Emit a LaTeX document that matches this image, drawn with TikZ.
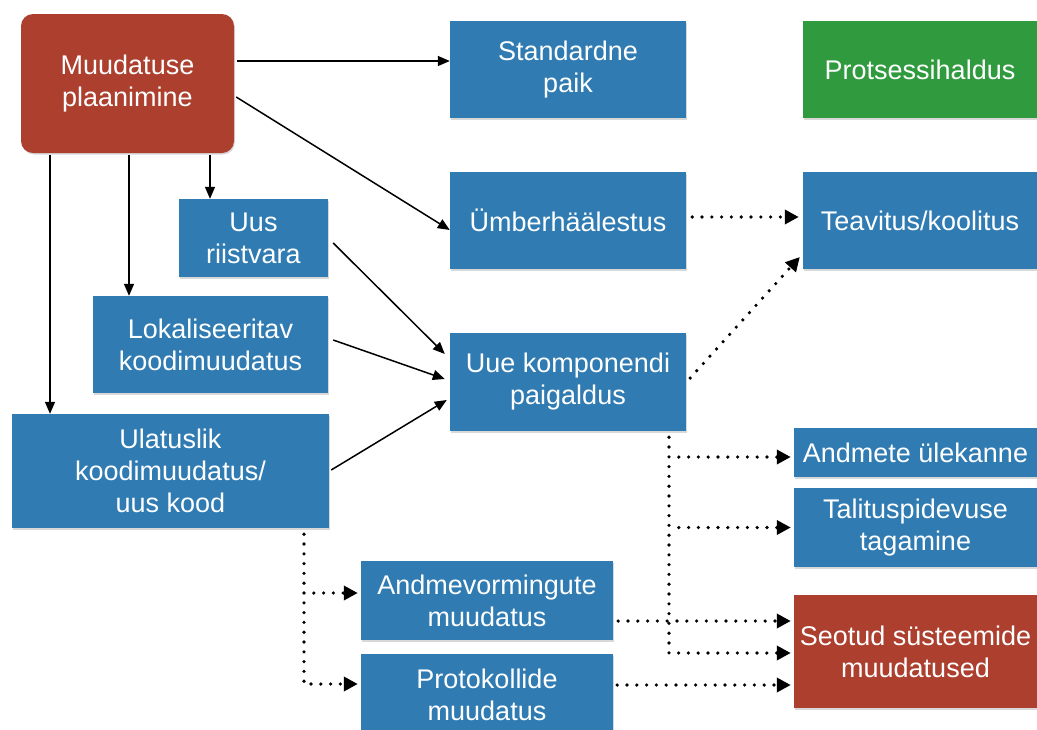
\documentclass[tikz,border=0pt]{standalone}
\usepackage{fontspec}
\setmainfont{Liberation Sans}
\usetikzlibrary{arrows.meta,shadows}
\definecolor{boxblue}{RGB}{47,123,178}
\definecolor{boxred}{RGB}{172,63,46}
\definecolor{boxgreen}{RGB}{48,155,62}
\begin{document}
\begin{tikzpicture}[x=1pt,y=-1pt,
  box/.style={fill=boxblue, text=white, align=center, inner sep=0pt,
    font=\fontsize{27}{32}\selectfont,
    drop shadow={shadow xshift=1pt,shadow yshift=-1.5pt,opacity=0.3}},
  redbox/.style={box, fill=boxred},
  greenbox/.style={box, fill=boxgreen},
  solidarrow/.style={-{Triangle[length=12pt,width=10pt]}, line width=1.5pt},
  dotline/.style={line width=3.6pt, dash pattern=on 0pt off 9.8pt, line cap=round},
  dotarrow/.style={dotline, -{Triangle[length=14pt,width=14pt]}}
]
\useasboundingbox (0,0) rectangle (1037,729);
\fill[white] (0,0) rectangle (1037,729);

% nodes
\node[redbox, rounded corners=12pt, minimum width=213pt, minimum height=139pt] (plan) at (127.5,83.5) {Muudatuse\\plaanimine};
\node[box, minimum width=236pt, minimum height=97pt] (std) at (568,69.5) {Standardne\\paik};
\node[greenbox, minimum width=234pt, minimum height=97pt] (prot) at (920,69.5) {Protsessihaldus};
\node[box, minimum width=236pt, minimum height=97pt] (umb) at (568,220.5) {Ümberhäälestus};
\node[box, minimum width=234pt, minimum height=97pt] (teav) at (920,220.5) {Teavitus/koolitus};
\node[box, minimum width=149pt, minimum height=78pt] (riist) at (253.5,238) {Uus\\riistvara};
\node[box, minimum width=235pt, minimum height=97pt] (lok) at (210.5,344.5) {Lokaliseeritav\\koodimuudatus};
\node[box, minimum width=317pt, minimum height=114pt] (ulat) at (170.5,471) {Ulatuslik\\koodimuudatus/\\uus kood};
\node[box, minimum width=236pt, minimum height=98pt] (uue) at (568,382) {Uue komponendi\\paigaldus};
\node[box, minimum width=243pt, minimum height=49pt] (andm) at (915.5,452.5) {Andmete ülekanne};
\node[box, minimum width=243pt, minimum height=79pt] (tal) at (915.5,527.5) {Talituspidevuse\\tagamine};
\node[redbox, minimum width=243pt, minimum height=113pt] (seot) at (915.5,651.5) {Seotud süsteemide\\muudatused};
\node[box, minimum width=252pt, minimum height=79pt] (andmev) at (487,600.5) {Andmevormingute\\muudatus};
\node[box, minimum width=252pt, minimum height=81pt] (protok) at (487,694.5) {Protokollide\\muudatus};

% solid connectors
\draw[solidarrow] ([xshift=3pt,yshift=22.5pt]plan.east) -- ([yshift=8.5pt]std.west);
\draw[solidarrow] ([xshift=2pt,yshift=-13.5pt]plan.east) -- ([yshift=-9.5pt]umb.west);
\coordinate (p1) at ([xshift=-77.5pt,yshift=-2pt]plan.south);
\coordinate (p2) at ([xshift=1.5pt,yshift=-2pt]plan.south);
\coordinate (p3) at ([xshift=82.5pt,yshift=-2pt]plan.south);
\draw[solidarrow] (p1) -- (p1 |- ulat.north);
\draw[solidarrow] (p2) -- (p2 |- lok.north);
\draw[solidarrow] (p3) -- (p3 |- riist.north);
\draw[solidarrow] ([xshift=5pt,yshift=-5pt]riist.east) -- ([xshift=-5pt,yshift=28pt]uue.west);
\draw[solidarrow] ([xshift=5pt,yshift=4.5pt]lok.east) -- ([xshift=-5pt,yshift=3pt]uue.west);
\draw[solidarrow] ([xshift=2pt,yshift=1pt]ulat.east) -- ([xshift=-3pt,yshift=-18pt]uue.west);

% dotted connectors
\draw[dotarrow] ([xshift=6pt,yshift=3.5pt]umb.east) -- ([xshift=-4pt,yshift=3.5pt]teav.west);
\draw[dotarrow] ([xshift=4pt,yshift=4pt]uue.east) -- ([xshift=-3pt,yshift=-36.5pt]teav.west);

\coordinate (t1) at ([xshift=101pt,yshift=-6pt]uue.south);
\draw[dotarrow] (t1) |- ([xshift=-3pt,yshift=-1.5pt]seot.west);
\coordinate (a1) at ([xshift=-3pt,yshift=-4.5pt]andm.west);
\draw[dotarrow] ([xshift=9.8pt]t1 |- a1) -- (a1);
\coordinate (a2) at ([xshift=-3pt]tal.west);
\draw[dotarrow] ([xshift=9.8pt]t1 |- a2) -- (a2);

\coordinate (t2) at ([xshift=133.5pt,yshift=-6pt]ulat.south);
\draw[dotarrow] (t2) |- ([xshift=-3pt,yshift=10.5pt]protok.west);
\coordinate (a3) at ([xshift=-3pt,yshift=7.5pt]andmev.west);
\draw[dotarrow] ([xshift=9.8pt]t2 |- a3) -- (a3);

\draw[dotarrow] ([xshift=5pt,yshift=-20.5pt]andmev.east) -- ([xshift=-3pt,yshift=30.5pt]seot.west);
\draw[dotarrow] ([xshift=4pt,yshift=9.5pt]protok.east) -- ([xshift=-3pt,yshift=-33.5pt]seot.west);
\end{tikzpicture}
\end{document}
